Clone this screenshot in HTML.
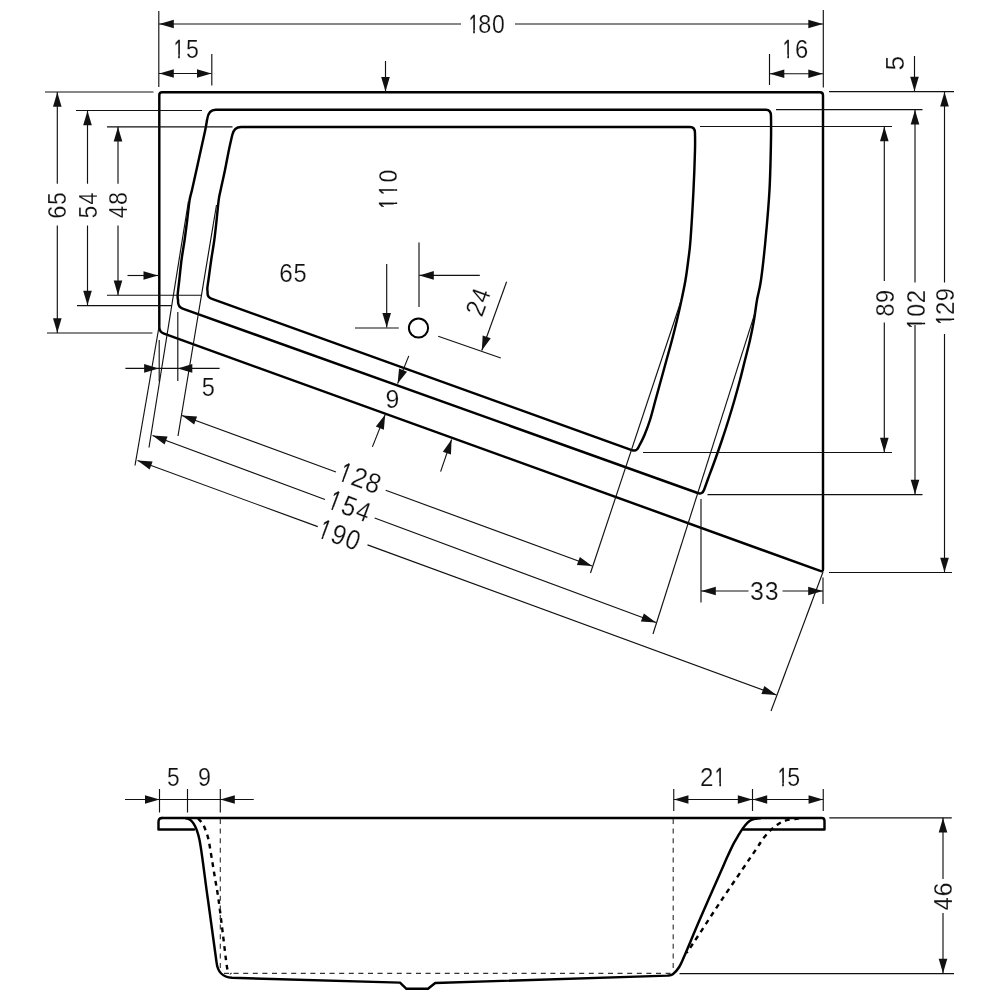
<!DOCTYPE html>
<html><head><meta charset="utf-8"><style>
html,body{margin:0;padding:0;background:#fff;}
svg{display:block;}
text{font-family:"Liberation Sans",sans-serif;font-size:25.4px;fill:#111;stroke:#fff;stroke-width:0.2px;}
</style></head><body>
<svg style="filter:grayscale(1)" width="1000" height="1000" viewBox="0 0 1000 1000">
<rect width="1000" height="1000" fill="#fff"/>
<defs><clipPath id="c0"><path clip-rule="evenodd" d="M-60,-40 H60 V40 H-60 Z M-16.32,5.99 H-12.5 V11.89 H-16.32 Z M-10.97,5.99 H-7.23 V11.89 H-10.97 Z"/></clipPath><clipPath id="c1"><path clip-rule="evenodd" d="M-60,-40 H60 V40 H-60 Z M-11.29,5.99 H-7.46 V11.89 H-11.29 Z M-5.94,5.99 H-2.2 V11.89 H-5.94 Z"/></clipPath><clipPath id="c2"><path clip-rule="evenodd" d="M-60,-40 H60 V40 H-60 Z M-11.29,5.99 H-7.46 V11.89 H-11.29 Z M-5.94,5.99 H-2.2 V11.89 H-5.94 Z"/></clipPath><clipPath id="c3"><path clip-rule="evenodd" d="M-60,-40 H60 V40 H-60 Z M-17.94,5.99 H-14.11 V11.89 H-17.94 Z M-12.59,5.99 H-8.85 V11.89 H-12.59 Z"/></clipPath><clipPath id="c4"><path clip-rule="evenodd" d="M-60,-40 H60 V40 H-60 Z M-16.49,5.99 H-12.66 V11.89 H-16.49 Z M-11.14,5.99 H-7.4 V11.89 H-11.14 Z"/></clipPath><clipPath id="c5"><path clip-rule="evenodd" d="M-60,-40 H60 V40 H-60 Z M-18.11,5.99 H-14.28 V11.89 H-18.11 Z M-12.75,5.99 H-9.02 V11.89 H-12.75 Z M-4.71,5.99 H-0.88 V11.89 H-4.71 Z M0.65,5.99 H4.38 V11.89 H0.65 Z"/></clipPath><clipPath id="c6"><path clip-rule="evenodd" d="M-60,-40 H60 V40 H-60 Z M-19.2,5.99 H-15.37 V11.89 H-19.2 Z M-13.85,5.99 H-10.11 V11.89 H-13.85 Z"/></clipPath><clipPath id="c7"><path clip-rule="evenodd" d="M-60,-40 H60 V40 H-60 Z M-19.56,5.99 H-15.73 V11.89 H-19.56 Z M-14.21,5.99 H-10.47 V11.89 H-14.21 Z"/></clipPath><clipPath id="c8"><path clip-rule="evenodd" d="M-60,-40 H60 V40 H-60 Z M-19.19,5.99 H-15.36 V11.89 H-19.19 Z M-13.84,5.99 H-10.1 V11.89 H-13.84 Z"/></clipPath><clipPath id="c9"><path clip-rule="evenodd" d="M-60,-40 H60 V40 H-60 Z M2.11,5.99 H5.94 V11.89 H2.11 Z M7.46,5.99 H11.2 V11.89 H7.46 Z"/></clipPath><clipPath id="c10"><path clip-rule="evenodd" d="M-60,-40 H60 V40 H-60 Z M-9.94,5.99 H-6.11 V11.89 H-9.94 Z M-4.59,5.99 H-0.85 V11.89 H-4.59 Z"/></clipPath></defs>
<path d="M159.3,95 Q159.3,92.3 162.3,92.3 L820,92.3 Q823,92.3 823,95.3 L823,569.2 Q823,571.9 820.2,570.9 L164,333.7 Q159.3,332 159.3,327 Z" stroke="#000" stroke-width="2.45" fill="none" stroke-linejoin="round" stroke-linecap="round"/>
<path d="M215.7,109.7 L766,109.7 Q771,109.7 771,116 C771,120 771.25,127.67 771,140 C770.75,152.33 770.42,173.33 769.5,190 C768.58,206.67 766.92,225 765.5,240 C764.08,255 762.42,270 761,280 C759.58,290 758.17,293.33 757,300 C755.83,306.67 755.17,313.33 754,320 C752.83,326.67 751.5,333.33 750,340 C748.5,346.67 746.67,353.33 745,360 C743.33,366.67 741.75,373.33 740,380 C738.25,386.67 736.42,393.33 734.5,400 C732.58,406.67 730.58,413.33 728.5,420 C726.42,426.67 724.25,433.33 722,440 C719.75,446.67 717.33,453.5 715,460 C712.67,466.5 709.8,474.08 708,479 C706.2,483.92 704.83,487.75 704.2,489.5 Q702.4,494.7 697.7,493 L182.6,308.6 Q177.5,306.7 178.1,300.5 C178.03,299.58 177.45,298.42 177.65,295 C177.85,291.58 178.66,285.83 179.3,280 C179.94,274.17 180.62,266.67 181.5,260 C182.38,253.33 183.65,246.67 184.6,240 C185.55,233.33 186.37,226.67 187.2,220 C188.03,213.33 188.8,205 189.6,200 C190.4,195 190.86,195 192,190 C193.14,185 194.97,176.67 196.45,170 C197.92,163.33 199.38,156.67 200.85,150 C202.32,143.33 204.19,135.17 205.25,130 C206.31,124.83 206.88,120.83 207.2,119 Q208.6,109.7 215.7,109.7 Z" stroke="#000" stroke-width="2.45" fill="none" stroke-linejoin="round" stroke-linecap="round"/>
<path d="M241,127 L690,127 Q695,127 695,133 C695,135.83 695.25,140.5 695,150 C694.75,159.5 694.25,175 693.5,190 C692.75,205 691.37,228.33 690.5,240 C689.63,251.67 689.13,253.33 688.3,260 C687.47,266.67 686.63,273.33 685.5,280 C684.37,286.67 682.92,293.33 681.5,300 C680.08,306.67 678.58,313.33 677,320 C675.42,326.67 673.75,333.33 672,340 C670.25,346.67 668.33,353.33 666.5,360 C664.67,366.67 662.83,373.33 661,380 C659.17,386.67 657.33,393.33 655.5,400 C653.67,406.67 651.83,414.17 650,420 C648.17,425.83 646.38,430.52 644.5,435 C642.62,439.48 639.67,444.92 638.7,446.9 Q636.7,451.9 631.7,450.1 L212,298.9 Q207,297.4 207.6,292 C207.56,291.33 207.21,290 207.35,288 C207.49,286 207.81,284.67 208.45,280 C209.09,275.33 210.22,266.67 211.2,260 C212.17,253.33 213.4,246.67 214.3,240 C215.2,233.33 215.87,226.67 216.6,220 C217.33,213.33 218.02,205 218.7,200 C219.38,195 219.6,195 220.65,190 C221.7,185 223.62,176.67 225,170 C226.38,163.33 227.7,155.8 228.9,150 C230.1,144.2 231.65,137.67 232.2,135.2 Q234,127 241,127 Z" stroke="#000" stroke-width="2.45" fill="none" stroke-linejoin="round" stroke-linecap="round"/>
<circle cx="418.5" cy="328" r="9.6" stroke="#000" stroke-width="2" fill="none"/>
<line x1="158.8" y1="11" x2="158.8" y2="87" stroke="#111" stroke-width="1.15" fill="none"/>
<line x1="823.3" y1="10" x2="823.3" y2="87.5" stroke="#111" stroke-width="1.15" fill="none"/>
<line x1="159" y1="24" x2="461" y2="24" stroke="#111" stroke-width="1.15" fill="none"/>
<line x1="515" y1="24" x2="823" y2="24" stroke="#111" stroke-width="1.15" fill="none"/>
<polygon points="159.3,24 173.8,19.7 173.8,28.3" fill="#111"/>
<polygon points="822.8,24 808.3,28.3 808.3,19.7" fill="#111"/>
<text transform="translate(485.73 24) rotate(0) scale(1 1.0124)" clip-path="url(#c0)"><tspan x="-16.83" y="8.89" textLength="9.59" lengthAdjust="spacingAndGlyphs" style="stroke:#111;stroke-width:0.25px">1</tspan><tspan x="-7.45" y="8.89" textLength="13.04" lengthAdjust="spacingAndGlyphs">8</tspan><tspan x="6.27" y="8.89" textLength="12.8" lengthAdjust="spacingAndGlyphs">0</tspan></text>
<line x1="211.8" y1="54" x2="211.8" y2="85.5" stroke="#111" stroke-width="1.15" fill="none"/>
<line x1="159" y1="73.5" x2="211.5" y2="73.5" stroke="#111" stroke-width="1.15" fill="none"/>
<polygon points="159.3,73.5 173.8,69.2 173.8,77.8" fill="#111"/>
<polygon points="211.5,73.5 197,77.8 197,69.2" fill="#111"/>
<text transform="translate(185.7 48.5) rotate(0) scale(1 1.0124)" clip-path="url(#c1)"><tspan x="-11.8" y="8.89" textLength="9.59" lengthAdjust="spacingAndGlyphs" style="stroke:#111;stroke-width:0.25px">1</tspan><tspan x="0.27" y="8.89" textLength="12.9" lengthAdjust="spacingAndGlyphs">5</tspan></text>
<line x1="769.5" y1="54" x2="769.5" y2="85" stroke="#111" stroke-width="1.15" fill="none"/>
<line x1="769.5" y1="73.75" x2="823" y2="73.75" stroke="#111" stroke-width="1.15" fill="none"/>
<polygon points="769.8,73.75 784.3,69.45 784.3,78.05" fill="#111"/>
<polygon points="822.8,73.75 808.3,78.05 808.3,69.45" fill="#111"/>
<text transform="translate(794.9 48.5) rotate(0) scale(1 1.0124)" clip-path="url(#c2)"><tspan x="-11.8" y="8.89" textLength="9.59" lengthAdjust="spacingAndGlyphs" style="stroke:#111;stroke-width:0.25px">1</tspan><tspan x="-0.01" y="8.89" textLength="13.26" lengthAdjust="spacingAndGlyphs">6</tspan></text>
<line x1="385.5" y1="61" x2="385.5" y2="91.5" stroke="#111" stroke-width="1.15" fill="none"/>
<polygon points="385.5,91.5 381.2,77 389.8,77" fill="#111"/>
<line x1="914.5" y1="56" x2="914.5" y2="91.3" stroke="#111" stroke-width="1.15" fill="none"/>
<polygon points="914.5,91.3 910.2,76.8 918.8,76.8" fill="#111"/>
<text transform="translate(895 63.25) rotate(-90) scale(1 1.0124)"><tspan x="-7.31" y="8.89" textLength="14.66" lengthAdjust="spacingAndGlyphs">5</tspan></text>
<line x1="829" y1="91.6" x2="954" y2="91.6" stroke="#111" stroke-width="1.15" fill="none"/>
<line x1="776" y1="109.6" x2="922.5" y2="109.6" stroke="#111" stroke-width="1.15" fill="none"/>
<line x1="700" y1="126.5" x2="892" y2="126.5" stroke="#111" stroke-width="1.15" fill="none"/>
<line x1="643" y1="452.5" x2="892" y2="452.5" stroke="#111" stroke-width="1.15" fill="none"/>
<line x1="707.5" y1="494.6" x2="922.5" y2="494.6" stroke="#111" stroke-width="1.15" fill="none"/>
<line x1="829" y1="572.5" x2="952" y2="572.5" stroke="#111" stroke-width="1.15" fill="none"/>
<line x1="884.3" y1="126.5" x2="884.3" y2="281" stroke="#111" stroke-width="1.15" fill="none"/>
<line x1="884.3" y1="322.5" x2="884.3" y2="452.5" stroke="#111" stroke-width="1.15" fill="none"/>
<polygon points="884.3,126.8 888.6,141.3 880,141.3" fill="#111"/>
<polygon points="884.3,452.2 880,437.7 888.6,437.7" fill="#111"/>
<text transform="translate(885.3 303.3) rotate(-90) scale(1 1.0124)"><tspan x="-13.26" y="8.89" textLength="12.93" lengthAdjust="spacingAndGlyphs">8</tspan><tspan x="0.23" y="8.89" textLength="13.14" lengthAdjust="spacingAndGlyphs">9</tspan></text>
<line x1="915" y1="109.6" x2="915" y2="282.5" stroke="#111" stroke-width="1.15" fill="none"/>
<line x1="915" y1="325" x2="915" y2="494.6" stroke="#111" stroke-width="1.15" fill="none"/>
<polygon points="915,109.9 919.3,124.4 910.7,124.4" fill="#111"/>
<polygon points="915,494.3 910.7,479.8 919.3,479.8" fill="#111"/>
<text transform="translate(916 310.15) rotate(-90) scale(1 1.0124)" clip-path="url(#c3)"><tspan x="-18.45" y="8.89" textLength="9.59" lengthAdjust="spacingAndGlyphs" style="stroke:#111;stroke-width:0.25px">1</tspan><tspan x="-6.55" y="8.89" textLength="12.8" lengthAdjust="spacingAndGlyphs">0</tspan><tspan x="6.79" y="8.89" textLength="13.43" lengthAdjust="spacingAndGlyphs">2</tspan></text>
<line x1="944.5" y1="91.6" x2="944.5" y2="282.5" stroke="#111" stroke-width="1.15" fill="none"/>
<line x1="944.5" y1="334" x2="944.5" y2="572.5" stroke="#111" stroke-width="1.15" fill="none"/>
<polygon points="944.5,91.9 948.8,106.4 940.2,106.4" fill="#111"/>
<polygon points="944.5,572.2 940.2,557.7 948.8,557.7" fill="#111"/>
<text transform="translate(945.3 307.4) rotate(-90) scale(1 1.0124)" clip-path="url(#c4)"><tspan x="-17" y="8.89" textLength="9.59" lengthAdjust="spacingAndGlyphs" style="stroke:#111;stroke-width:0.25px">1</tspan><tspan x="-7.51" y="8.89" textLength="13.43" lengthAdjust="spacingAndGlyphs">2</tspan><tspan x="6.08" y="8.89" textLength="13.24" lengthAdjust="spacingAndGlyphs">9</tspan></text>
<line x1="45" y1="92" x2="153.5" y2="92" stroke="#111" stroke-width="1.15" fill="none"/>
<line x1="76" y1="110.5" x2="202" y2="110.5" stroke="#111" stroke-width="1.15" fill="none"/>
<line x1="107" y1="126.8" x2="232.5" y2="126.8" stroke="#111" stroke-width="1.15" fill="none"/>
<line x1="107" y1="295.2" x2="201.6" y2="295.2" stroke="#111" stroke-width="1.15" fill="none"/>
<line x1="77" y1="305.6" x2="171.6" y2="305.6" stroke="#111" stroke-width="1.15" fill="none"/>
<line x1="47" y1="333" x2="152.4" y2="333" stroke="#111" stroke-width="1.15" fill="none"/>
<line x1="57.3" y1="92" x2="57.3" y2="183.75" stroke="#111" stroke-width="1.15" fill="none"/>
<line x1="57.3" y1="225.5" x2="57.3" y2="333" stroke="#111" stroke-width="1.15" fill="none"/>
<polygon points="57.3,92.3 61.6,106.8 53,106.8" fill="#111"/>
<polygon points="57.3,332.7 53,318.2 61.6,318.2" fill="#111"/>
<text transform="translate(57.3 205.3) rotate(-90) scale(1 1.0124)"><tspan x="-13.51" y="8.89" textLength="13.2" lengthAdjust="spacingAndGlyphs">6</tspan><tspan x="0.42" y="8.89" textLength="12.85" lengthAdjust="spacingAndGlyphs">5</tspan></text>
<line x1="87.5" y1="110.5" x2="87.5" y2="183.75" stroke="#111" stroke-width="1.15" fill="none"/>
<line x1="87.5" y1="225.5" x2="87.5" y2="305.6" stroke="#111" stroke-width="1.15" fill="none"/>
<polygon points="87.5,110.8 91.8,125.3 83.2,125.3" fill="#111"/>
<polygon points="87.5,305.3 83.2,290.8 91.8,290.8" fill="#111"/>
<text transform="translate(87.5 205.3) rotate(-90) scale(1 1.0124)"><tspan x="-13.23" y="8.89" textLength="12.85" lengthAdjust="spacingAndGlyphs">5</tspan><tspan x="0.85" y="8.89" textLength="12.09" lengthAdjust="spacingAndGlyphs">4</tspan></text>
<line x1="118" y1="126.8" x2="118" y2="183.75" stroke="#111" stroke-width="1.15" fill="none"/>
<line x1="118" y1="225.5" x2="118" y2="295.2" stroke="#111" stroke-width="1.15" fill="none"/>
<polygon points="118,127.1 122.3,141.6 113.7,141.6" fill="#111"/>
<polygon points="118,294.9 113.7,280.4 122.3,280.4" fill="#111"/>
<text transform="translate(118 205.3) rotate(-90) scale(1 1.0124)"><tspan x="-12.8" y="8.89" textLength="12.09" lengthAdjust="spacingAndGlyphs">4</tspan><tspan x="0.33" y="8.89" textLength="12.98" lengthAdjust="spacingAndGlyphs">8</tspan></text>
<line x1="127.5" y1="275.5" x2="158" y2="275.5" stroke="#111" stroke-width="1.15" fill="none"/>
<polygon points="158,275.5 143.5,279.8 143.5,271.2" fill="#111"/>
<line x1="125.4" y1="368.4" x2="219.6" y2="368.4" stroke="#111" stroke-width="1.15" fill="none"/>
<polygon points="158.6,368.4 144.1,372.7 144.1,364.1" fill="#111"/>
<polygon points="177.8,368.4 192.3,364.1 192.3,372.7" fill="#111"/>
<line x1="159.2" y1="340" x2="159.2" y2="381.6" stroke="#111" stroke-width="1.15" fill="none"/>
<line x1="177.8" y1="312" x2="177.8" y2="381" stroke="#111" stroke-width="1.15" fill="none"/>
<text transform="translate(208.3 387) rotate(0) scale(1 1.0124)"><tspan x="-6.55" y="8.89" textLength="13.14" lengthAdjust="spacingAndGlyphs">5</tspan></text>
<text transform="translate(387.6 189.78) rotate(-90) scale(1 1.0124)" clip-path="url(#c5)"><tspan x="-18.61" y="8.89" textLength="9.59" lengthAdjust="spacingAndGlyphs" style="stroke:#111;stroke-width:0.25px">1</tspan><tspan x="-5.21" y="8.89" textLength="9.59" lengthAdjust="spacingAndGlyphs" style="stroke:#111;stroke-width:0.25px">1</tspan><tspan x="7.23" y="8.89" textLength="12.8" lengthAdjust="spacingAndGlyphs">0</tspan></text>
<text transform="translate(293.1 273.4) rotate(0) scale(1 1.0124)"><tspan x="-13.84" y="8.89" textLength="13.53" lengthAdjust="spacingAndGlyphs">6</tspan><tspan x="0.43" y="8.89" textLength="13.16" lengthAdjust="spacingAndGlyphs">5</tspan></text>
<line x1="419" y1="242.5" x2="419" y2="307" stroke="#111" stroke-width="1.15" fill="none"/>
<line x1="479.8" y1="275.4" x2="419.3" y2="275.4" stroke="#111" stroke-width="1.15" fill="none"/>
<polygon points="419.3,275.4 433.8,271.1 433.8,279.7" fill="#111"/>
<line x1="386.7" y1="264" x2="386.7" y2="327.6" stroke="#111" stroke-width="1.15" fill="none"/>
<polygon points="386.7,327.6 382.4,313.1 391,313.1" fill="#111"/>
<line x1="355" y1="328" x2="398.8" y2="328" stroke="#111" stroke-width="1.15" fill="none"/>
<line x1="438.2" y1="336.2" x2="500.8" y2="358" stroke="#111" stroke-width="1.15" fill="none"/>
<line x1="506.6" y1="281.8" x2="481.8" y2="350.5" stroke="#111" stroke-width="1.15" fill="none"/>
<polygon points="481.8,350.5 482.68,335.4 490.77,338.32" fill="#111"/>
<text transform="translate(478 302) rotate(-70) scale(1 1.0405)"><tspan x="-13.73" y="8.89" textLength="13.59" lengthAdjust="spacingAndGlyphs">2</tspan><tspan x="0.86" y="8.89" textLength="12.29" lengthAdjust="spacingAndGlyphs">4</tspan></text>
<line x1="408.8" y1="355.9" x2="397.6" y2="383.6" stroke="#111" stroke-width="1.15" fill="none"/>
<polygon points="397.6,383.6 399.05,368.55 407.02,371.77" fill="#111"/>
<line x1="372.4" y1="446.9" x2="385.2" y2="414.6" stroke="#111" stroke-width="1.15" fill="none"/>
<polygon points="385.2,414.6 383.86,429.66 375.86,426.5" fill="#111"/>
<line x1="440.6" y1="471.6" x2="451.6" y2="439.5" stroke="#111" stroke-width="1.15" fill="none"/>
<polygon points="451.6,439.5 450.97,454.61 442.83,451.82" fill="#111"/>
<text transform="translate(392.5 399.2) rotate(0) scale(1 1.0124)"><tspan x="-6.92" y="8.89" textLength="13.85" lengthAdjust="spacingAndGlyphs">9</tspan></text>
<line x1="216.5" y1="205" x2="178" y2="436" stroke="#111" stroke-width="1.15" fill="none"/>
<line x1="682" y1="298" x2="590.5" y2="573" stroke="#111" stroke-width="1.15" fill="none"/>
<line x1="188.5" y1="201" x2="149" y2="447.5" stroke="#111" stroke-width="1.15" fill="none"/>
<line x1="755.7" y1="310.6" x2="653" y2="634" stroke="#111" stroke-width="1.15" fill="none"/>
<line x1="159.3" y1="325" x2="135" y2="465.5" stroke="#111" stroke-width="1.15" fill="none"/>
<line x1="823" y1="572" x2="771" y2="711" stroke="#111" stroke-width="1.15" fill="none"/>
<line x1="182" y1="415.5" x2="335.96" y2="472.01" stroke="#111" stroke-width="1.15" fill="none"/>
<line x1="385.71" y1="490.28" x2="592" y2="566" stroke="#111" stroke-width="1.15" fill="none"/>
<polygon points="182,415.5 197.09,416.46 194.13,424.53" fill="#111"/>
<polygon points="592,566 576.91,565.04 579.87,556.97" fill="#111"/>
<text transform="translate(359.67 477.67) rotate(20.16) scale(1 1.0967)" clip-path="url(#c6)"><tspan x="-19.71" y="8.89" textLength="9.59" lengthAdjust="spacingAndGlyphs" style="stroke:#111;stroke-width:0.25px">1</tspan><tspan x="-7.24" y="8.89" textLength="14.41" lengthAdjust="spacingAndGlyphs">2</tspan><tspan x="7.66" y="8.89" textLength="13.99" lengthAdjust="spacingAndGlyphs">8</tspan></text>
<line x1="152.5" y1="435.5" x2="324.99" y2="499.56" stroke="#111" stroke-width="1.15" fill="none"/>
<line x1="374.67" y1="518.01" x2="656" y2="622.5" stroke="#111" stroke-width="1.15" fill="none"/>
<polygon points="152.5,435.5 167.59,436.52 164.6,444.58" fill="#111"/>
<polygon points="656,622.5 640.91,621.48 643.9,613.42" fill="#111"/>
<text transform="translate(349.38 505.95) rotate(20.38) scale(1 1.0967)" clip-path="url(#c7)"><tspan x="-20.07" y="8.89" textLength="9.59" lengthAdjust="spacingAndGlyphs" style="stroke:#111;stroke-width:0.25px">1</tspan><tspan x="-6.94" y="8.89" textLength="13.84" lengthAdjust="spacingAndGlyphs">5</tspan><tspan x="8.58" y="8.89" textLength="13.02" lengthAdjust="spacingAndGlyphs">4</tspan></text>
<line x1="137.5" y1="460.5" x2="317.75" y2="526.65" stroke="#111" stroke-width="1.15" fill="none"/>
<line x1="367.5" y1="544.91" x2="776.5" y2="695" stroke="#111" stroke-width="1.15" fill="none"/>
<polygon points="137.5,460.5 152.59,461.46 149.63,469.53" fill="#111"/>
<polygon points="776.5,695 761.41,694.04 764.37,685.97" fill="#111"/>
<text transform="translate(339.22 534.5) rotate(20.15) scale(1 1.0967)" clip-path="url(#c8)"><tspan x="-19.7" y="8.89" textLength="9.59" lengthAdjust="spacingAndGlyphs" style="stroke:#111;stroke-width:0.25px">1</tspan><tspan x="-7.18" y="8.89" textLength="14.21" lengthAdjust="spacingAndGlyphs">9</tspan><tspan x="7.82" y="8.89" textLength="13.73" lengthAdjust="spacingAndGlyphs">0</tspan></text>
<line x1="701" y1="499" x2="701" y2="602.5" stroke="#111" stroke-width="1.15" fill="none"/>
<line x1="823" y1="577.5" x2="823" y2="604" stroke="#111" stroke-width="1.15" fill="none"/>
<line x1="701" y1="591" x2="748.5" y2="591" stroke="#111" stroke-width="1.15" fill="none"/>
<line x1="782.5" y1="591" x2="823" y2="591" stroke="#111" stroke-width="1.15" fill="none"/>
<polygon points="701.3,591 715.8,586.7 715.8,595.3" fill="#111"/>
<polygon points="822.7,591 808.2,595.3 808.2,586.7" fill="#111"/>
<text transform="translate(764.3 590.8) rotate(0) scale(1 1.0124)"><tspan x="-14.2" y="8.89" textLength="13.84" lengthAdjust="spacingAndGlyphs">3</tspan><tspan x="0.5" y="8.89" textLength="13.84" lengthAdjust="spacingAndGlyphs">3</tspan></text>
<line x1="125" y1="799.5" x2="253.75" y2="799.5" stroke="#111" stroke-width="1.15" fill="none"/>
<line x1="159.5" y1="789" x2="159.5" y2="812.5" stroke="#111" stroke-width="1.15" fill="none"/>
<line x1="187.5" y1="789" x2="187.5" y2="812.5" stroke="#111" stroke-width="1.15" fill="none"/>
<line x1="220.3" y1="789" x2="220.3" y2="812.5" stroke="#111" stroke-width="1.15" fill="none"/>
<polygon points="159.5,799.5 145,803.8 145,795.2" fill="#111"/>
<polygon points="220.3,799.5 234.8,795.2 234.8,803.8" fill="#111"/>
<text transform="translate(173.4 776.8) rotate(0) scale(1 1.0124)"><tspan x="-6.31" y="8.89" textLength="12.67" lengthAdjust="spacingAndGlyphs">5</tspan></text>
<text transform="translate(204.6 776.6) rotate(0) scale(1 1.0124)"><tspan x="-6.5" y="8.89" textLength="13" lengthAdjust="spacingAndGlyphs">9</tspan></text>
<line x1="673.75" y1="799.5" x2="823.25" y2="799.5" stroke="#111" stroke-width="1.15" fill="none"/>
<line x1="673.75" y1="789" x2="673.75" y2="811" stroke="#111" stroke-width="1.15" fill="none"/>
<line x1="752.5" y1="789" x2="752.5" y2="811" stroke="#111" stroke-width="1.15" fill="none"/>
<line x1="823.25" y1="789" x2="823.25" y2="811" stroke="#111" stroke-width="1.15" fill="none"/>
<polygon points="673.95,799.5 688.45,795.2 688.45,803.8" fill="#111"/>
<polygon points="752.3,799.5 737.8,803.8 737.8,795.2" fill="#111"/>
<polygon points="752.7,799.5 767.2,795.2 767.2,803.8" fill="#111"/>
<polygon points="823.05,799.5 808.55,803.8 808.55,795.2" fill="#111"/>
<text transform="translate(713.5 777) rotate(0) scale(1 1.0124)" clip-path="url(#c9)"><tspan x="-13.41" y="8.89" textLength="13.43" lengthAdjust="spacingAndGlyphs">2</tspan><tspan x="1.6" y="8.89" textLength="9.59" lengthAdjust="spacingAndGlyphs" style="stroke:#111;stroke-width:0.25px">1</tspan></text>
<text transform="translate(788.35 777) rotate(0) scale(1 1.0124)" clip-path="url(#c10)"><tspan x="-10.45" y="8.89" textLength="9.59" lengthAdjust="spacingAndGlyphs" style="stroke:#111;stroke-width:0.25px">1</tspan><tspan x="-1.08" y="8.89" textLength="12.9" lengthAdjust="spacingAndGlyphs">5</tspan></text>
<line x1="829.3" y1="817.8" x2="951.8" y2="817.8" stroke="#111" stroke-width="1.15" fill="none"/>
<line x1="679.5" y1="973.6" x2="954" y2="973.6" stroke="#111" stroke-width="1.15" fill="none"/>
<line x1="943" y1="817.8" x2="943" y2="879" stroke="#111" stroke-width="1.15" fill="none"/>
<line x1="943" y1="913" x2="943" y2="973.6" stroke="#111" stroke-width="1.15" fill="none"/>
<polygon points="943,818.1 947.3,832.6 938.7,832.6" fill="#111"/>
<polygon points="943,973.3 938.7,958.8 947.3,958.8" fill="#111"/>
<text transform="translate(943.2 896.6) rotate(-90) scale(1 1.0124)"><tspan x="-13.74" y="8.89" textLength="12.98" lengthAdjust="spacingAndGlyphs">4</tspan><tspan x="0.15" y="8.89" textLength="14.17" lengthAdjust="spacingAndGlyphs">6</tspan></text>
<path d="M162,818 L822,818 Q824.5,818 824.5,821 L824.5,829.5 L743,829.5" stroke="#000" stroke-width="2.45" fill="none" stroke-linejoin="round" stroke-linecap="round"/>
<path d="M194,829.5 L158.5,829.5 L158.5,822 Q158.5,818 162,818" stroke="#000" stroke-width="2.45" fill="none" stroke-linejoin="round" stroke-linecap="round"/>
<path d="M186,818.3 C193,819 197,828 199.5,840 C202,852 205,880 208,900 L216.5,962 Q218,977 232,977.8 L400,982.6 L406.4,988.8 L428,988.8 L435.2,983 L667.6,975.6 C668.47,975.37 670.87,975.63 672.8,974.2 C674.73,972.77 677.2,970.2 679.2,967 C681.2,963.8 681.33,963 684.8,955 C688.27,947 694.13,932.57 700,919 C705.87,905.43 715.5,883.83 720,873.6 C724.5,863.37 724.73,862.6 727,857.6 C729.27,852.6 731.7,847.3 733.6,843.6 C735.5,839.9 736.87,837.93 738.4,835.4 C739.93,832.87 741.27,830.53 742.8,828.4 C744.33,826.27 746.15,824.03 747.6,822.6 C749.05,821.17 750.1,820.45 751.5,819.8 C752.9,819.15 754.58,818.95 756,818.7 C757.42,818.45 759.33,818.37 760,818.3" stroke="#000" stroke-width="2.45" fill="none" stroke-linejoin="round" stroke-linecap="round"/>
<path d="M198,818.5 C198.75,819.33 201.25,821.58 202.5,823.5 C203.75,825.42 204.48,827.25 205.5,830 C206.52,832.75 207.52,835 208.6,840 C209.68,845 210.88,853.33 212,860 C213.12,866.67 214.2,873.33 215.3,880 C216.4,886.67 217.32,890.83 218.6,900 C219.88,909.17 221.63,924 223,935 C224.37,946 225.88,960 226.8,966 C227.72,972 227.8,969.67 228.5,971 C229.2,972.33 230.58,973.5 231,974" stroke="#000" stroke-width="2.4" fill="none" stroke-dasharray="4.8 4.6"/>
<path d="M799,818.4 C796.83,818.73 789.5,819.43 786,820.4 C782.5,821.37 780.53,822.6 778,824.2 C775.47,825.8 773.2,827.7 770.8,830 C768.4,832.3 765.87,835.07 763.6,838 C761.33,840.93 760.8,842.27 757.2,847.6 C753.6,852.93 748.2,860.87 742,870 C735.8,879.13 727,891.9 720,902.4 C713,912.9 705.53,924.6 700,933 C694.47,941.4 689,949.5 686.8,952.8" stroke="#000" stroke-width="2.4" fill="none" stroke-dasharray="4.8 4.6"/>
<path d="M220.3,819 L220.3,972.5" stroke="#333" stroke-width="1.15" fill="none" stroke-dasharray="5 4.6"/>
<path d="M224,973.4 L673,973.4" stroke="#333" stroke-width="1.15" fill="none" stroke-dasharray="5 4.6"/>
<path d="M673.2,819 L673.2,972" stroke="#333" stroke-width="1.15" fill="none" stroke-dasharray="5 4.6"/>
</svg>
</body></html>
